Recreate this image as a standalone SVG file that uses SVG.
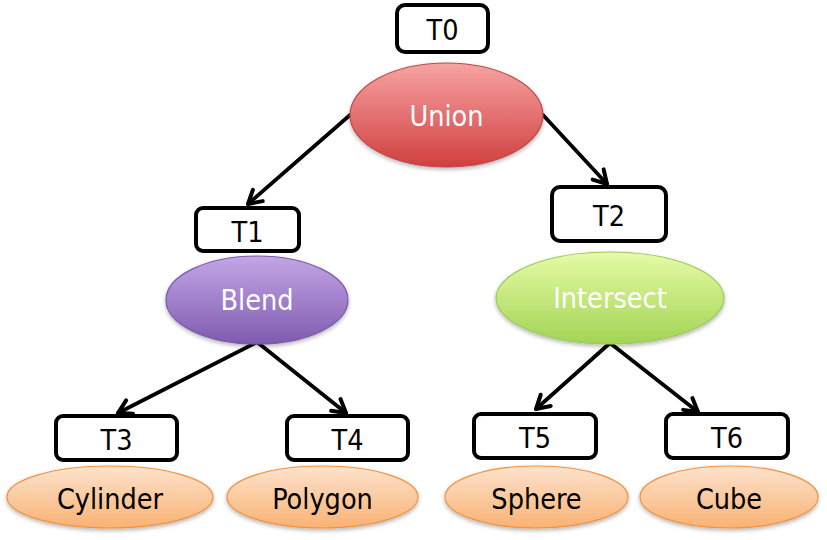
<svg xmlns="http://www.w3.org/2000/svg" width="827" height="540" viewBox="0 0 827 540">
  <defs>
    <linearGradient id="gRed" x1="0" y1="0" x2="0" y2="1">
      <stop offset="0" stop-color="#f7a3a3"/>
      <stop offset="1" stop-color="#d13f3f"/>
    </linearGradient>
    <linearGradient id="gPurple" x1="0" y1="0" x2="0" y2="1">
      <stop offset="0" stop-color="#c3a6e6"/>
      <stop offset="1" stop-color="#7f5bb0"/>
    </linearGradient>
    <linearGradient id="gGreen" x1="0" y1="0" x2="0" y2="1">
      <stop offset="0" stop-color="#e6fba6"/>
      <stop offset="1" stop-color="#a2d454"/>
    </linearGradient>
    <linearGradient id="gOrange" x1="0" y1="0" x2="0" y2="1">
      <stop offset="0" stop-color="#fde3cd"/>
      <stop offset="1" stop-color="#f9b274"/>
    </linearGradient>
    <filter id="shadow" x="-10%" y="-10%" width="120%" height="130%">
      <feGaussianBlur in="SourceAlpha" stdDeviation="2"/>
      <feOffset dx="0" dy="2" result="b"/>
      <feComponentTransfer><feFuncA type="linear" slope="0.3"/></feComponentTransfer>
      <feMerge><feMergeNode/><feMergeNode in="SourceGraphic"/></feMerge>
    </filter>
    <marker id="arrow" markerUnits="userSpaceOnUse" markerWidth="30" markerHeight="30" refX="0" refY="0" orient="auto" overflow="visible">
      <path d="M-13,-7.5 L0,0 L-13,7.5" fill="none" stroke="#000" stroke-width="4" stroke-linecap="round" stroke-linejoin="round"/>
    </marker>
  </defs>
  <style>
    .tag rect { fill: #fff; stroke: #000; stroke-width: 4; }
    .tag text, .op text, .leaf text { font-family: "DejaVu Sans Condensed", "DejaVu Sans", sans-serif; font-size: 28.5px; text-anchor: middle; }
    .tag text, .leaf text { fill: #000; }
    .op text { fill: #fff; }
    .op ellipse, .leaf ellipse { filter: url(#shadow); stroke-width: 1.2; }
    .leaf ellipse { fill: url(#gOrange); stroke: #f0923f; }
    .edges line { stroke: #000; stroke-width: 3.8; stroke-linecap: round; marker-end: url(#arrow); }
  </style>

  <!-- connectors -->
  <g id="edges" class="edges">
    <line x1="350" y1="115" x2="248" y2="204"/>
    <line x1="543" y1="115" x2="607" y2="184"/>
    <line x1="257" y1="342" x2="118" y2="413"/>
    <line x1="257" y1="342" x2="346" y2="413"/>
    <line x1="610" y1="343" x2="536" y2="409"/>
    <line x1="610" y1="343" x2="698" y2="412"/>
  </g>

  <!-- transform tags -->
  <g id="T0" class="tag"><rect x="397" y="5" width="91" height="47" rx="8"/><text x="442.5" y="40">T0</text></g>
  <g id="T1" class="tag"><rect x="196" y="208" width="103" height="43" rx="7"/><text x="247.5" y="242">T1</text></g>
  <g id="T2" class="tag"><rect x="552" y="187" width="114" height="54" rx="8"/><text x="609" y="226">T2</text></g>
  <g id="T3" class="tag"><rect x="56" y="416" width="121" height="44" rx="7"/><text x="116.5" y="450">T3</text></g>
  <g id="T4" class="tag"><rect x="287" y="416" width="121" height="44" rx="7"/><text x="347.5" y="450">T4</text></g>
  <g id="T5" class="tag"><rect x="474" y="414" width="122" height="44" rx="7"/><text x="535" y="448">T5</text></g>
  <g id="T6" class="tag"><rect x="666" y="414" width="122" height="44" rx="7"/><text x="727" y="448">T6</text></g>

  <!-- operators -->
  <g id="union" class="op"><ellipse cx="446.5" cy="115" rx="96.5" ry="52" fill="url(#gRed)" stroke="#c04848"/><text x="446.5" y="126">Union</text></g>
  <g id="blend" class="op"><ellipse cx="257" cy="300" rx="91" ry="44" fill="url(#gPurple)" stroke="#7a5aa8"/><text x="257" y="310">Blend</text></g>
  <g id="intersect" class="op"><ellipse cx="610" cy="298" rx="114" ry="46" fill="url(#gGreen)" stroke="#9cc860"/><text x="610" y="308">Intersect</text></g>

  <!-- primitives -->
  <g id="cylinder" class="leaf"><ellipse cx="110" cy="497" rx="103" ry="31"/><text x="110" y="509">Cylinder</text></g>
  <g id="polygon" class="leaf"><ellipse cx="322.5" cy="497" rx="95.5" ry="31"/><text x="322.5" y="509">Polygon</text></g>
  <g id="sphere" class="leaf"><ellipse cx="536.5" cy="497" rx="91.5" ry="31"/><text x="536.5" y="509">Sphere</text></g>
  <g id="cube" class="leaf"><ellipse cx="729" cy="497" rx="89" ry="31"/><text x="729" y="509">Cube</text></g>
</svg>
